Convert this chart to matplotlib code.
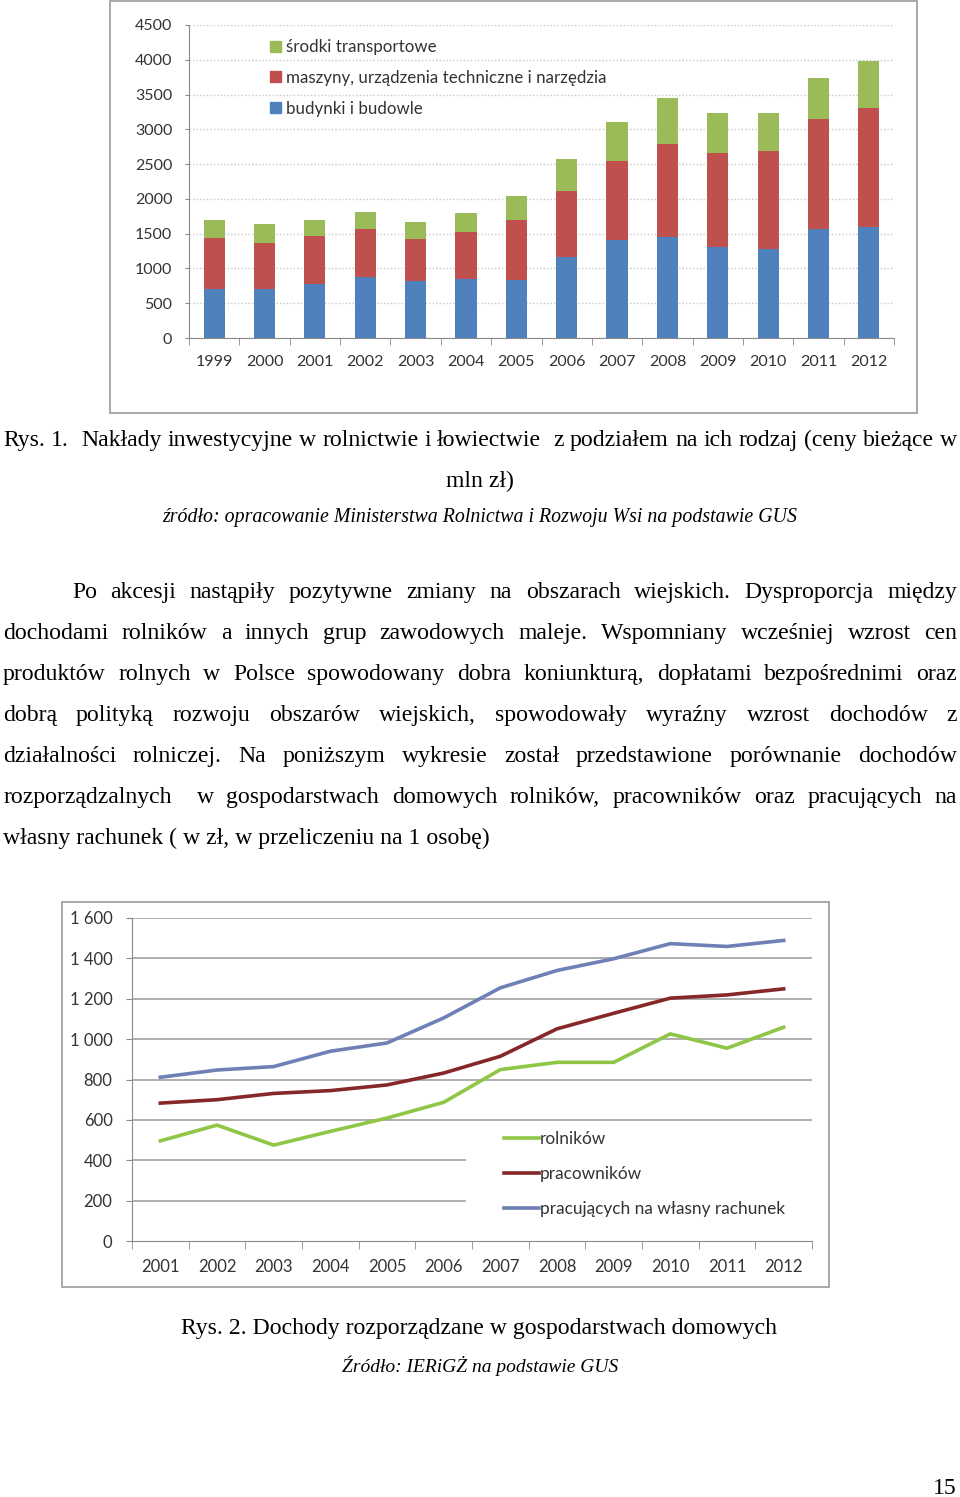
import matplotlib
matplotlib.use("Agg")
import matplotlib.pyplot as plt
import numpy as np
from matplotlib.lines import Line2D
from matplotlib.patches import Rectangle, Patch
from matplotlib.ticker import FuncFormatter

W, H = 960, 1497
SERIF = "Liberation Serif"
SANS = "Lato"
INK = "#333333"

# --- Rys. 1 data (mln zł) ---
years_bar = [1999, 2000, 2001, 2002, 2003, 2004, 2005, 2006, 2007, 2008, 2009, 2010, 2011, 2012]
budynki = [706, 706, 778, 874, 817, 850, 841, 1167, 1402, 1455, 1311, 1282, 1571, 1590]
maszyny = [725, 663, 687, 687, 609, 673, 850, 946, 1144, 1331, 1355, 1408, 1575, 1710]
transport = [260, 264, 226, 255, 245, 278, 350, 466, 562, 663, 571, 552, 591, 677]
bar_labels = ["środki transportowe", "maszyny, urządzenia techniczne i narzędzia", "budynki i budowle"]

# --- Rys. 2 data (zł na osobę) ---
years_line = [2001, 2002, 2003, 2004, 2005, 2006, 2007, 2008, 2009, 2010, 2011, 2012]
rolnikow = [496, 574, 475, 543, 609, 687, 849, 885, 885, 1026, 955, 1059]
pracownikow = [683, 700, 731, 745, 773, 832, 915, 1051, 1128, 1203, 1219, 1249]
wlasny = [811, 847, 864, 940, 981, 1105, 1254, 1340, 1398, 1473, 1459, 1489]
line_labels = ["rolników", "pracowników", "pracujących na własny rachunek"]

caption1 = ["Rys.", "1.", "", "Nakłady", "inwestycyjne", "w", "rolnictwie", "i", "łowiectwie", "", "z",
            "podziałem", "na", "ich", "rodzaj", "(ceny", "bieżące", "w"]
caption1_end = "mln zł)"
source1 = "źródło: opracowanie Ministerstwa Rolnictwa i Rozwoju Wsi na podstawie GUS"
body = [
    "Po akcesji nastąpiły pozytywne zmiany na obszarach wiejskich. Dysproporcja między",
    "dochodami rolników a innych grup zawodowych maleje. Wspomniany wcześniej wzrost cen",
    "produktów rolnych w Polsce spowodowany dobra koniunkturą, dopłatami bezpośrednimi oraz",
    "dobrą polityką rozwoju obszarów wiejskich, spowodowały wyraźny wzrost dochodów z",
    "działalności rolniczej. Na poniższym wykresie został przedstawione porównanie dochodów",
    "rozporządzalnych  w gospodarstwach domowych rolników, pracowników oraz pracujących na",
]
body_last = "własny rachunek ( w zł, w przeliczeniu na 1 osobę)"
caption2 = "Rys. 2. Dochody rozporządzane w gospodarstwach domowych"
source2 = "Źródło: IERiGŻ na podstawie GUS"
page_no = "15"

fig = plt.figure(figsize=(W / 100, H / 100), dpi=100)
fig.patch.set_facecolor("white")
renderer = fig.canvas.get_renderer()


def fx(px):
    return px / W


def fy(py):
    return 1 - py / H


def frame(x0, y0, x1, y1):
    fig.patches.append(Rectangle((fx(x0), fy(y1)), fx(x1) - fx(x0), fy(y0) - fy(y1),
                                 transform=fig.transFigure, fill=False,
                                 edgecolor="#9a9a9a", lw=1.2))


def justify(words, base, x0, x1, size=17.1):
    texts = [fig.text(0, fy(base), w, fontsize=size, family=SERIF, va="baseline") for w in words]
    widths = [t.get_window_extent(renderer).width for t in texts]
    gap = (x1 - x0 - sum(widths)) / (len(words) - 1)
    x = x0
    for t, w in zip(texts, widths):
        t.set_x(fx(x))
        x += w + gap


# ---------------- chart 1 ----------------
frame(110, 1, 917, 413)
ax1 = fig.add_axes([fx(189), fy(338), fx(894) - fx(189), (338 - 25) / H])
xb = np.arange(len(years_bar))
bw = 0.42
b_bud = np.array(budynki)
b_masz = np.array(maszyny)
ax1.bar(xb, b_bud, bw, color="#4F81BD", zorder=3)
ax1.bar(xb, b_masz, bw, bottom=b_bud, color="#C0504D", zorder=3)
ax1.bar(xb, transport, bw, bottom=b_bud + b_masz, color="#9BBB59", zorder=3)
ax1.set_xlim(-0.5, len(years_bar) - 0.5)
ax1.set_ylim(0, 4500)
ax1.set_yticks(range(0, 4501, 500))
ax1.yaxis.grid(True, color="#c8c8c8", ls=(0, (1, 1.5)), lw=1, zorder=0)
ax1.set_xticks(xb)
ax1.set_xticklabels([str(y) for y in years_bar])
ax1.set_xticks(np.arange(-0.5, len(years_bar)), minor=True)
ax1.tick_params(axis="x", which="major", length=0, pad=12, labelsize=11.5, labelcolor=INK)
ax1.tick_params(axis="x", which="minor", length=5, color="#8a8a8a")
ax1.tick_params(axis="y", length=3, color="#8a8a8a", pad=9, labelsize=11.5, labelcolor=INK)
for s in ["top", "right"]:
    ax1.spines[s].set_visible(False)
for s in ["left", "bottom"]:
    ax1.spines[s].set_color("#8a8a8a")
for lab in ax1.get_xticklabels() + ax1.get_yticklabels():
    lab.set_family(SANS)
h1 = [Patch(color="#9BBB59"), Patch(color="#C0504D"), Patch(color="#4F81BD")]
fig.legend(h1, bar_labels, loc="upper left", bbox_to_anchor=(fx(270), fy(39)),
           frameon=False, borderpad=0, borderaxespad=0, handlelength=0.62, handleheight=0.62,
           handletextpad=0.35, labelspacing=0.88, prop={"family": SANS, "size": 12.2},
           labelcolor=INK)

# ---------------- captions & body ----------------
justify(caption1, 446, 3, 957)
fig.text(0.5, fy(487), caption1_end, ha="center", va="baseline", fontsize=17.1, family=SERIF)
fig.text(fx(480), fy(522), source1, ha="center", va="baseline", fontsize=14.3, family=SERIF,
         style="italic")
base = 598
for i, line in enumerate(body):
    justify(line.split(" "), base + 41 * i, 72 if i == 0 else 3, 957)
fig.text(fx(3), fy(base + 41 * len(body)), body_last, va="baseline", fontsize=17.1, family=SERIF)

# ---------------- chart 2 ----------------
frame(62, 902, 829, 1287)
ax2 = fig.add_axes([fx(132), fy(1241), fx(812) - fx(132), (1241 - 918) / H])
xl = np.arange(len(years_line))
for val in range(200, 1601, 200):
    xmax = 0.49 if val <= 400 else 1
    ax2.axhline(val, xmax=xmax, color="#a8a8a8", lw=1.3, zorder=0)
ax2.plot(xl, rolnikow, color="#8FC645", lw=2.6, label=line_labels[0], zorder=3)
ax2.plot(xl, pracownikow, color="#862828", lw=2.6, label=line_labels[1], zorder=3)
ax2.plot(xl, wlasny, color="#6F80B6", lw=2.6, label=line_labels[2], zorder=3)
ax2.set_xlim(-0.5, len(years_line) - 0.5)
ax2.set_ylim(0, 1600)
ax2.set_yticks(range(0, 1601, 200))
ax2.yaxis.set_major_formatter(FuncFormatter(lambda v, p: f"{int(v):,}".replace(",", " ")))
ax2.set_xticks(xl)
ax2.set_xticklabels([str(y) for y in years_line])
ax2.set_xticks(np.arange(-0.5, len(years_line)), minor=True)
ax2.tick_params(axis="x", which="major", length=0, pad=13, labelsize=12, labelcolor=INK)
ax2.tick_params(axis="x", which="minor", length=6, color="#8a8a8a")
ax2.tick_params(axis="y", length=4, color="#8a8a8a", pad=10, labelsize=12, labelcolor=INK)
for s in ["top", "right"]:
    ax2.spines[s].set_visible(False)
for s in ["left", "bottom"]:
    ax2.spines[s].set_color("#8a8a8a")
for lab in ax2.get_xticklabels() + ax2.get_yticklabels():
    lab.set_family(SANS)
h2 = [Line2D([], [], color=c, lw=2.6) for c in ["#8FC645", "#862828", "#6F80B6"]]
fig.legend(h2, line_labels, loc="upper left", bbox_to_anchor=(fx(504), fy(1131)),
           frameon=False, borderpad=0, borderaxespad=0, handlelength=2.05,
           handletextpad=0.05, labelspacing=1.1, prop={"family": SANS, "size": 12.4},
           labelcolor=INK)

fig.text(fx(479), fy(1334), caption2, ha="center", va="baseline", fontsize=17.1, family=SERIF)
fig.text(fx(480), fy(1372), source2, ha="center", va="baseline", fontsize=14, family=SERIF,
         style="italic")
fig.text(fx(957), fy(1494), page_no, ha="right", va="baseline", fontsize=17.1, family=SERIF)

fig.savefig("out.png", dpi=100)
